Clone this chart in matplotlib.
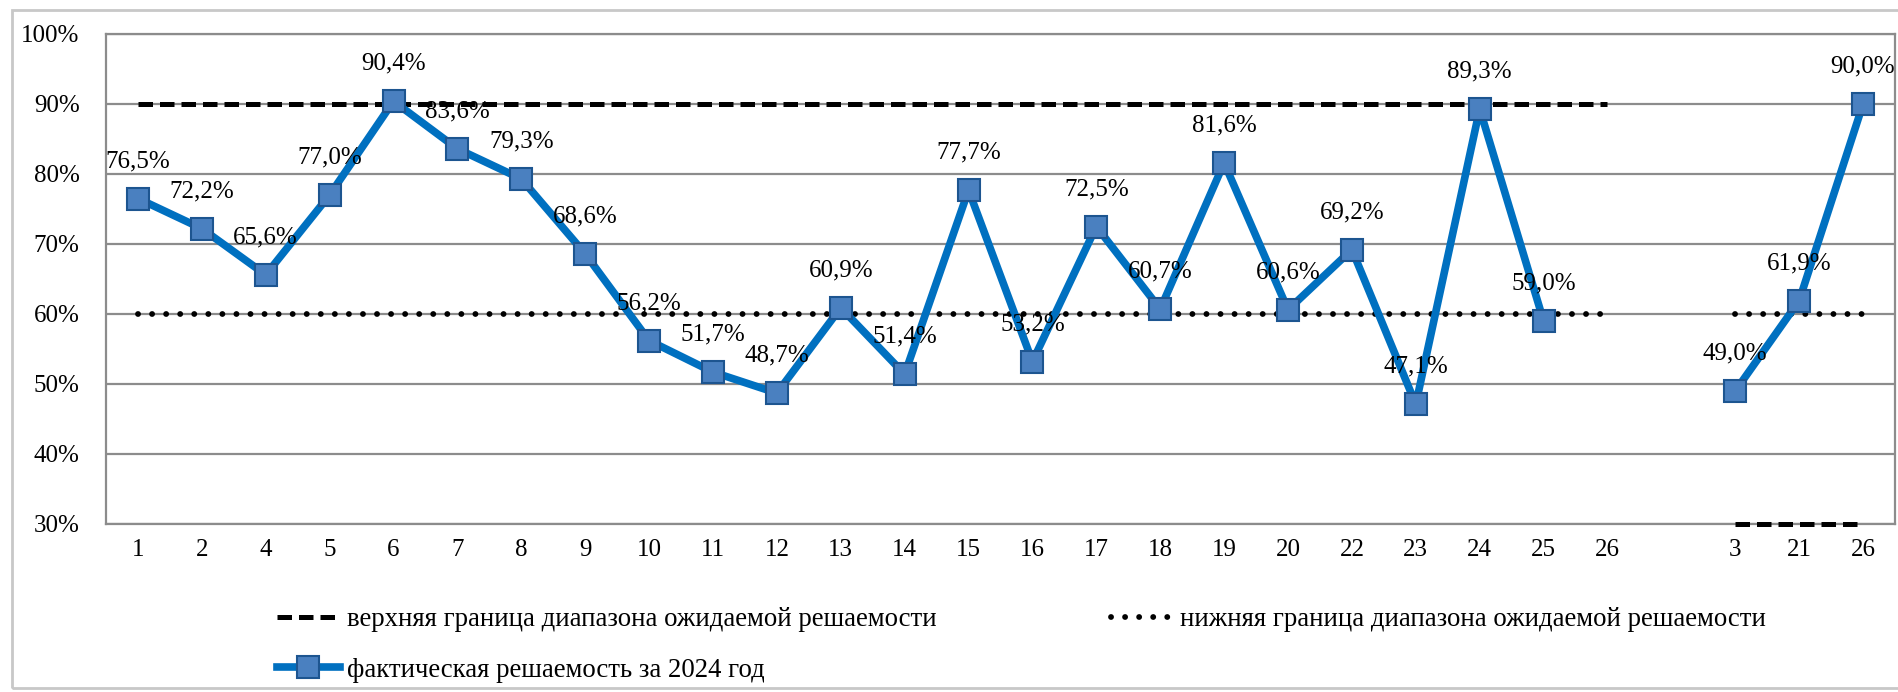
import matplotlib
matplotlib.use('Agg')
import matplotlib.pyplot as plt
import numpy as np
from matplotlib.patches import Rectangle
from matplotlib.lines import Line2D

plt.rcParams['font.family'] = ['Liberation Serif', 'DejaVu Serif']

categories = ['1', '2', '4', '5', '6', '7', '8', '9', '10', '11', '12', '13', '14',
              '15', '16', '17', '18', '19', '20', '22', '23', '24', '25', '26', '',
              '3', '21', '26']
actual = [76.5, 72.2, 65.6, 77.0, 90.4, 83.6, 79.3, 68.6, 56.2, 51.7, 48.7, 60.9, 51.4,
          77.7, 53.2, 72.5, 60.7, 81.6, 60.6, 69.2, 47.1, 89.3, 59.0, None, None,
          49.0, 61.9, 90.0]
upper = [90, 90, 90, 90, 90, 90, 90, 90, 90, 90, 90, 90, 90,
         90, 90, 90, 90, 90, 90, 90, 90, 90, 90, 90, None,
         30, 30, 30]
lower = [60, 60, 60, 60, 60, 60, 60, 60, 60, 60, 60, 60, 60,
         60, 60, 60, 60, 60, 60, 60, 60, 60, 60, 60, None,
         60, 60, 60]
yticks = [30, 40, 50, 60, 70, 80, 90, 100]

label_upper = 'верхняя граница диапазона ожидаемой решаемости'
label_lower = 'нижняя граница диапазона ожидаемой решаемости'
label_actual = 'фактическая решаемость за 2024 год'

W, H = 1899, 692
fig = plt.figure(figsize=(W / 100, H / 100), dpi=100)
fig.patch.set_facecolor('white')

# outer chart frame
fig.add_artist(Rectangle((12 / W, 4 / H), (W - 10) / W, (678) / H, transform=fig.transFigure,
                         fill=False, edgecolor='#c8c8c8', lw=2.0))

ax = fig.add_axes([106 / W, 1 - 524 / H, (1895 - 106) / W, (524 - 34) / H])

def arr(v):
    return np.array([np.nan if a is None else a for a in v], dtype=float)

x = np.arange(len(categories))

dash_kw = dict(color='black', lw=3.6, dashes=(2.9, 1.4), dash_capstyle='butt')
dot_kw = dict(color='black', lw=4.2, dashes=(0.01, 2.4), dash_capstyle='round')
act_kw = dict(color='#0070C0', lw=5.5, marker='s', markersize=16,
              markerfacecolor='#4a80c0', markeredgecolor='#1d5590', markeredgewidth=1.5)

ax.plot(x, arr(upper), zorder=3, clip_on=False, **dash_kw)
ax.plot(x, arr(lower), zorder=3, **dot_kw)
ax.plot(x, arr(actual), zorder=4, clip_on=False, **act_kw)

for i, v in enumerate(actual):
    if v is not None:
        ax.annotate(f"{v:.1f}%".replace('.', ','), (i, v), xytext=(0, 27),
                    textcoords='offset points', ha='center', va='center',
                    fontsize=18, color='black', zorder=6)

ax.set_xlim(-0.5, len(categories) - 0.5)
ax.set_ylim(30, 100)
ax.set_yticks(yticks)
ax.set_yticklabels([f"{t}%" for t in yticks])
ax.set_xticks(x)
ax.set_xticklabels(categories)
ax.tick_params(axis='y', length=0, pad=19, labelsize=18)
ax.tick_params(axis='x', length=0, pad=11, labelsize=18)
ax.grid(axis='y', color='#8c8c8c', lw=1.6, zorder=1)
ax.set_axisbelow(True)
for s in ax.spines.values():
    s.set_color('#8c8c8c')
    s.set_linewidth(1.6)

h_up = Line2D([], [], **dash_kw)
h_low = Line2D([], [], **dot_kw)
h_act = Line2D([], [], **act_kw)

fig.legend([h_up, h_act, h_low], [label_upper, label_actual, label_lower], ncol=2,
           loc='upper left', bbox_to_anchor=(277 / W, 1 - 607 / H),
           bbox_transform=fig.transFigure, frameon=False, fontsize=19.3,
           handlelength=2.35, handletextpad=0.25, columnspacing=6.5,
           labelspacing=0.96, borderpad=0, borderaxespad=0)

fig.savefig('out.png', dpi=100, facecolor='white')
